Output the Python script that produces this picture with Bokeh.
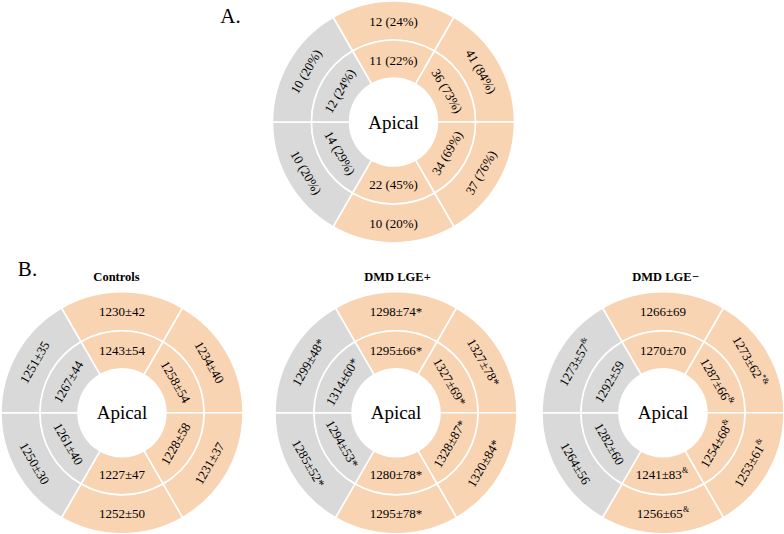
import numpy as np
from bokeh.plotting import figure
from bokeh.models import Range1d, ColumnDataSource
from bokeh.core.properties import value
from bokeh.embed import file_html
from bokeh.resources import INLINE

# ---------------- data ----------------
segments = ["Anterior", "Anterolateral", "Inferolateral", "Inferior", "Inferoseptal", "Anteroseptal"]
segment_angle_deg = [90, 30, -30, 270, 210, 150]
segment_group = ["lateral", "lateral", "lateral", "lateral", "septal", "septal"]

# Panel A: counts (percent)
a_outer_n = [12, 41, 37, 10, 10, 10]
a_outer_pct = [24, 84, 76, 20, 20, 20]
a_inner_n = [11, 36, 34, 22, 14, 12]
a_inner_pct = [22, 73, 69, 45, 29, 24]

# Panel B: mean ± SD
ctrl_outer_mean = [1230, 1234, 1231, 1252, 1250, 1251]
ctrl_outer_sd = [42, 40, 37, 50, 30, 35]
ctrl_inner_mean = [1243, 1258, 1228, 1227, 1261, 1267]
ctrl_inner_sd = [54, 54, 58, 47, 40, 44]

lgep_outer_mean = [1298, 1327, 1320, 1295, 1285, 1299]
lgep_outer_sd = [74, 78, 84, 78, 52, 48]
lgep_inner_mean = [1295, 1327, 1328, 1280, 1294, 1314]
lgep_inner_sd = [66, 69, 87, 78, 53, 60]
lgep_outer_mark = ["*", "*", "*", "*", "*", "*"]
lgep_inner_mark = ["*", "*", "*", "*", "*", "*"]

lgen_outer_mean = [1266, 1273, 1253, 1256, 1264, 1273]
lgen_outer_sd = [69, 62, 61, 65, 56, 57]
lgen_inner_mean = [1270, 1287, 1254, 1241, 1282, 1292]
lgen_inner_sd = [70, 66, 68, 83, 60, 59]
lgen_outer_sup = ["", " *&", "&", "&", "", "&"]
lgen_inner_sup = ["", "&", "&", " &", "", ""]

panel_titles = ["Controls", "DMD LGE+", "DMD LGE\u2212"]
center_label = "Apical"

# ---------------- style / layout ----------------
W, H = 784, 534
ORANGE = "#F9D4B3"
GRAY = "#D9D9D9"
FONT = "Liberation Serif"
R_OUT, R_MID, R_IN = 121, 82, 44
LBL_OUT, LBL_IN = 101, 62
SEG_FS, SUP_FS = 13, 8
TXT = "#000000"


def Y(img_y):
    return H - img_y


p = figure(width=W, height=H, x_range=Range1d(0, W), y_range=Range1d(0, H),
           output_backend="svg", toolbar_location=None, min_border=0)
p.axis.visible = False
p.grid.visible = False
p.outline_line_color = None
p.background_fill_color = "white"
p.border_fill_color = "white"

CHAR_W = {c: 0.5 for c in "0123456789*"}
CHAR_W.update({"\u00b1": 0.564, " ": 0.25, "&": 0.778, "(": 0.333, ")": 0.333, "%": 0.833})


def text_w(s, fs):
    return sum(CHAR_W.get(c, 0.5) for c in s) * fs


def draw_bullseye(cx, cy, outer_labels, inner_labels, outer_sup=None, inner_sup=None):
    ang = np.radians(segment_angle_deg)
    colors = [ORANGE if g == "lateral" else GRAY for g in segment_group]
    for r0, r1 in ((R_MID, R_OUT), (R_IN, R_MID)):
        src = ColumnDataSource(dict(
            x=[cx] * 6, y=[cy] * 6,
            start=list(ang - np.pi / 6), end=list(ang + np.pi / 6),
            color=colors))
        p.annular_wedge(x="x", y="y", inner_radius=r0, outer_radius=r1,
                        start_angle="start", end_angle="end", source=src,
                        fill_color="color", line_color="white", line_width=1.6)
    for labels, sups, rr in ((outer_labels, outer_sup, LBL_OUT), (inner_labels, inner_sup, LBL_IN)):
        for i, lab in enumerate(labels):
            a = ang[i]
            rot = a - np.pi / 2
            while rot > np.pi / 2 + 1e-6:
                rot -= np.pi
            while rot <= -np.pi / 2 + 1e-6:
                rot += np.pi
            tx, ty = cx + rr * np.cos(a), cy + rr * np.sin(a)
            sup = sups[i] if sups else ""
            if sup:
                wm = text_w(lab, SEG_FS)
                ws = text_w(sup, SUP_FS)
                tot = wm + ws
                ux, uy = np.cos(rot), np.sin(rot)
                nx, ny = -np.sin(rot), np.cos(rot)
                sx, sy = tx - ux * tot / 2, ty - uy * tot / 2
                p.text(x=[sx], y=[sy], text=[lab], angle=rot, text_align="left",
                       text_baseline="middle", text_font=value(FONT),
                       text_font_size=f"{SEG_FS}px", text_color=TXT)
                p.text(x=[sx + ux * wm + nx * 4], y=[sy + uy * wm + ny * 4], text=[sup],
                       angle=rot, text_align="left", text_baseline="middle",
                       text_font=value(FONT), text_font_size=f"{SUP_FS}px", text_color=TXT)
            else:
                p.text(x=[tx], y=[ty], text=[lab], angle=rot, text_align="center",
                       text_baseline="middle", text_font=value(FONT),
                       text_font_size=f"{SEG_FS}px", text_color=TXT)
    p.text(x=[cx], y=[cy], text=[center_label], text_align="center", text_baseline="middle",
           text_font=value(FONT), text_font_size="19px", text_color=TXT)


# Panel A
a_out = [f"{n} ({q}%)" for n, q in zip(a_outer_n, a_outer_pct)]
a_in = [f"{n} ({q}%)" for n, q in zip(a_inner_n, a_inner_pct)]
draw_bullseye(393, Y(121.5), a_out, a_in)

# Panel B
ctrl_out = [f"{m}\u00b1{s}" for m, s in zip(ctrl_outer_mean, ctrl_outer_sd)]
ctrl_in = [f"{m}\u00b1{s}" for m, s in zip(ctrl_inner_mean, ctrl_inner_sd)]
lgep_out = [f"{m}\u00b1{s}{k}" for m, s, k in zip(lgep_outer_mean, lgep_outer_sd, lgep_outer_mark)]
lgep_in = [f"{m}\u00b1{s}{k}" for m, s, k in zip(lgep_inner_mean, lgep_inner_sd, lgep_inner_mark)]
lgen_out = [f"{m}\u00b1{s}" for m, s in zip(lgen_outer_mean, lgen_outer_sd)]
lgen_in = [f"{m}\u00b1{s}" for m, s in zip(lgen_inner_mean, lgen_inner_sd)]

b_centers_x = [121.5, 395.5, 662.5]
b_cy = Y(412.3)
draw_bullseye(b_centers_x[0], b_cy, ctrl_out, ctrl_in)
draw_bullseye(b_centers_x[1], b_cy, lgep_out, lgep_in)
draw_bullseye(b_centers_x[2], b_cy, lgen_out, lgen_in, lgen_outer_sup, lgen_inner_sup)

# Titles
p.text(x=[230], y=[Y(15)], text=["A."], text_align="center", text_baseline="middle",
       text_font=value(FONT), text_font_size="21px", text_color=TXT)
p.text(x=[27], y=[Y(268)], text=["B."], text_align="center", text_baseline="middle",
       text_font=value(FONT), text_font_size="21px", text_color=TXT)
title_x = [116, 397, 665]
p.text(x=title_x, y=[Y(276)] * 3, text=panel_titles, text_align="center", text_baseline="middle",
       text_font=value(FONT), text_font_size="12.5px", text_font_style="bold", text_color=TXT)

open("out.html", "w").write(file_html(p, INLINE))
